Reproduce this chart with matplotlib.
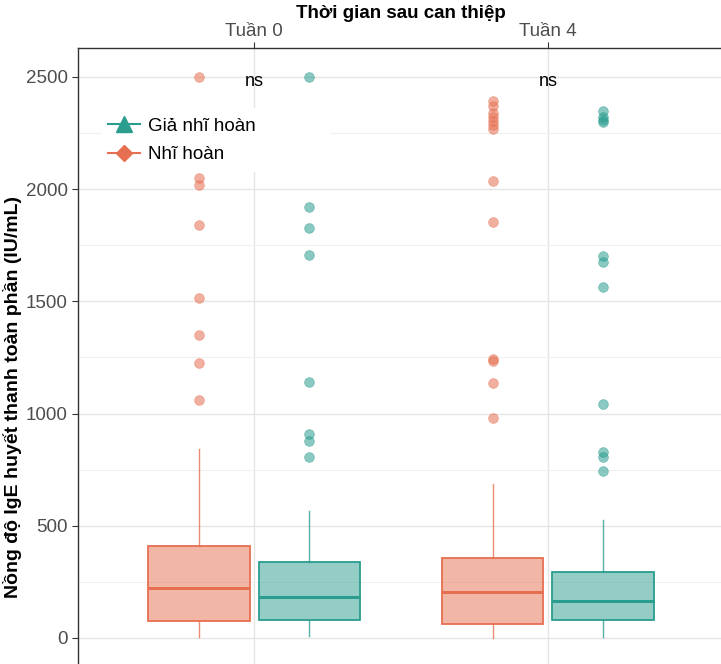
import matplotlib.pyplot as plt
from matplotlib.lines import Line2D
from matplotlib.patches import Rectangle

plt.rcParams['font.family'] = ['Liberation Sans', 'DejaVu Sans']

weeks = ['Tuần 0', 'Tuần 4']
groups = ['Nhĩ hoàn', 'Giả nhĩ hoàn']
colors = {'Nhĩ hoàn': '#E76F51', 'Giả nhĩ hoàn': '#2A9D8F'}

# box stats per group, one value per week
q1 = {'Nhĩ hoàn': [76, 62], 'Giả nhĩ hoàn': [80, 80]}
med = {'Nhĩ hoàn': [223, 205], 'Giả nhĩ hoàn': [183, 165]}
q3 = {'Nhĩ hoàn': [410, 356], 'Giả nhĩ hoàn': [339, 294]}
whislo = {'Nhĩ hoàn': [4, 2], 'Giả nhĩ hoàn': [9, 5]}
whishi = {'Nhĩ hoàn': [842, 686], 'Giả nhĩ hoàn': [566, 526]}
outliers = {
    'Nhĩ hoàn': [
        [2500, 2050, 2020, 1840, 1515, 1350, 1225, 1060],
        [2395, 2370, 2340, 2320, 2305, 2285, 2270, 2037, 1855, 1243, 1232, 1136, 982],
    ],
    'Giả nhĩ hoàn': [
        [2500, 1920, 1825, 1705, 1141, 909, 878, 807],
        [2348, 2322, 2310, 2300, 1702, 1676, 1564, 1043, 829, 808, 744],
    ],
}
sig = ['ns', 'ns']

fig = plt.figure(figsize=(7.21, 6.64), dpi=100)
ax = fig.add_axes([78 / 721, 0, (724 - 78) / 721, (664 - 48) / 664])

offset = {'Nhĩ hoàn': -0.1875, 'Giả nhĩ hoàn': 0.1875}
for g in groups:
    c = colors[g]
    stats = []
    for i in range(len(weeks)):
        stats.append(dict(q1=q1[g][i], med=med[g][i], q3=q3[g][i],
                          whislo=whislo[g][i], whishi=whishi[g][i],
                          fliers=outliers[g][i]))
    pos = [i + 1 + offset[g] for i in range(len(weeks))]
    ax.bxp(stats, positions=pos, widths=0.345, patch_artist=True,
           showcaps=False,
           boxprops=dict(facecolor=c, alpha=0.5, edgecolor=c, linewidth=1.2),
           medianprops=dict(color=c, linewidth=2),
           whiskerprops=dict(color=c, linewidth=1, alpha=0.8),
           flierprops=dict(marker='o', markerfacecolor=c, markeredgecolor=c,
                           markersize=7, alpha=0.55, markeredgewidth=0.5),
           zorder=3)
    # box outline drawn opaque on top
    ax.bxp(stats, positions=pos, widths=0.345, patch_artist=True,
           showcaps=False, showfliers=False,
           boxprops=dict(facecolor='none', edgecolor=c, linewidth=1.2),
           medianprops=dict(color=c, linewidth=2),
           whiskerprops=dict(color=c, linewidth=0),
           zorder=4)

for i, s in enumerate(sig):
    ax.text(i + 1, 2480, s, ha='center', va='center', fontsize=13, color='black')

ax.set_xlim(0.4, 2.6)
ax.set_ylim(-116, 2629)
ax.set_yticks([0, 500, 1000, 1500, 2000, 2500])
ax.set_yticks([250, 750, 1250, 1750, 2250], minor=True)
ax.set_xticks([1, 2])
ax.set_xticklabels(weeks)
ax.xaxis.tick_top()
ax.xaxis.set_label_position('top')
ax.tick_params(axis='both', which='major', labelsize=13.5, labelcolor='#4d4d4d',
               color='#333333', length=4)
ax.tick_params(axis='y', which='minor', length=0)
ax.tick_params(axis='x', pad=2)
ax.set_xlabel('Thời gian sau can thiệp', fontsize=13.5, fontweight='bold', labelpad=3)
ax.set_ylabel('Nồng độ IgE huyết thanh toàn phần (IU/mL)', fontsize=14,
              fontweight='bold')
ax.yaxis.set_label_coords(-0.086, 0.433)

ax.grid(True, which='major', color='#e5e5e5', linewidth=1, zorder=0)
ax.grid(True, which='minor', axis='y', color='#f0f0f0', linewidth=0.8, zorder=0)
ax.set_axisbelow(True)
for side in ['left', 'top']:
    ax.spines[side].set_color('#333333')
    ax.spines[side].set_linewidth(1)
ax.spines['right'].set_visible(False)
ax.spines['bottom'].set_visible(False)

# legend background (wider than the entries, as in the reference)
ax.add_patch(Rectangle((0.0372, 0.7987), 0.353, 0.1039, transform=ax.transAxes,
                       facecolor='white', edgecolor='none', zorder=1))
handles = [
    Line2D([], [], color=colors['Giả nhĩ hoàn'], marker='^', markersize=11,
           linewidth=1.5, label='Giả nhĩ hoàn'),
    Line2D([], [], color=colors['Nhĩ hoàn'], marker='D', markersize=8,
           linewidth=1.5, label='Nhĩ hoàn'),
]
leg = ax.legend(handles=handles, loc='upper left', bbox_to_anchor=(0.046, 0.887),
                frameon=False, fontsize=13.5, handlelength=1.7, borderpad=0,
                borderaxespad=0, labelspacing=0.6, handletextpad=0.45)

fig.savefig('out.png', dpi=100)
